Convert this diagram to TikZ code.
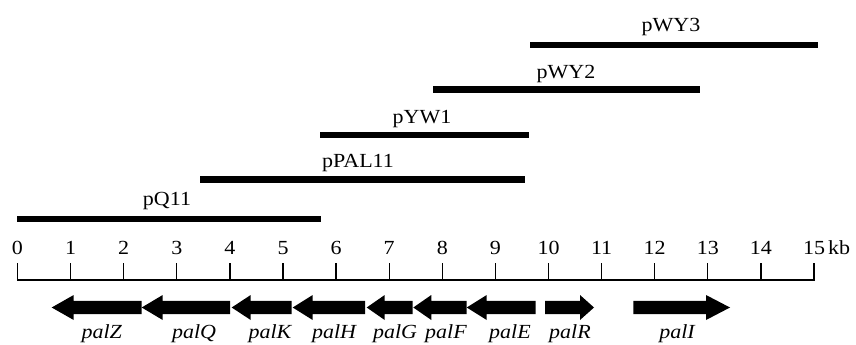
\documentclass[tikz,border=0pt]{standalone}
\usepackage{fontspec}
\setmainfont{Liberation Serif}[FakeStretch=1.1]
\newcommand\genearrow[4]{%
  \coordinate (#1-tail) at (#2,307.5);
  \coordinate (#1-tip) at (#3,307.5);
  \pgfmathsetmacro\hd{#3>#2 ? -#4 : #4}%
  \fill (#2,300.8) -- ({#3+\hd},300.8) -- ({#3+\hd},295) -- (#1-tip)
        -- ({#3+\hd},320) -- ({#3+\hd},314.2) -- (#2,314.2) -- cycle;}
\begin{document}
\begin{tikzpicture}[x=1pt,y=-1pt,
  clone/.style={line width=6.5pt},
  axisline/.style={line width=1.3pt},
  lbl/.style={font=\fontsize{20}{22}\selectfont, inner sep=0pt, anchor=base},
  glbl/.style={lbl, font=\fontsize{20}{22}\selectfont\itshape}]
\path[use as bounding box] (0,0) rectangle (856,345);

% clones
\foreach \nm/\xa/\xb/\yy/\lx/\ly in {pQ11/17/321/219/167/205,
    pPAL11/200/525/179.5/358/167,
    pYW1/320/529/135/422/123,
    pWY2/433/700/89.5/566/78,
    pWY3/530/818/45/671/32}{
  \coordinate (\nm-l) at (\xa,\yy);
  \coordinate (\nm-r) at (\xb,\yy);
  \draw[clone] (\nm-l) -- (\nm-r);
  \node[lbl] (\nm-lab) at (\lx,\ly) {\nm};
}

% axis
\foreach \i in {0,...,15}{
  \pgfmathsetmacro\xx{17.5+53.1*\i}
  \coordinate (t\i) at (\xx,280);
  \coordinate (u\i) at (\xx,263);
  \draw[axisline] (t\i) -- (u\i);
  \node[lbl] (n\i) at (\xx,254) {\i};
}
\draw[axisline, line cap=rect] (t0) -- (t15);
\node[lbl, anchor=base west] (kb) at (828,254) {kb};

% genes
\genearrow{palZ}{141.7}{51.7}{22}
\genearrow{palQ}{230}{141.7}{21}
\genearrow{palK}{291.7}{231.7}{19}
\genearrow{palH}{365}{292.7}{20}
\genearrow{palG}{412.7}{366.7}{18}
\genearrow{palF}{466.7}{413.3}{18}
\genearrow{palE}{535.7}{466.7}{20}
\genearrow{palR}{545}{594}{14}
\genearrow{palI}{633.3}{730}{24}

\foreach \g/\gx in {palZ/101.7, palQ/194, palK/270, palH/334, palG/395,
    palF/446, palE/510, palR/570, palI/677}{
  \node[glbl] (\g-lab) at (\gx,338) {\g};
}
\end{tikzpicture}
\end{document}
